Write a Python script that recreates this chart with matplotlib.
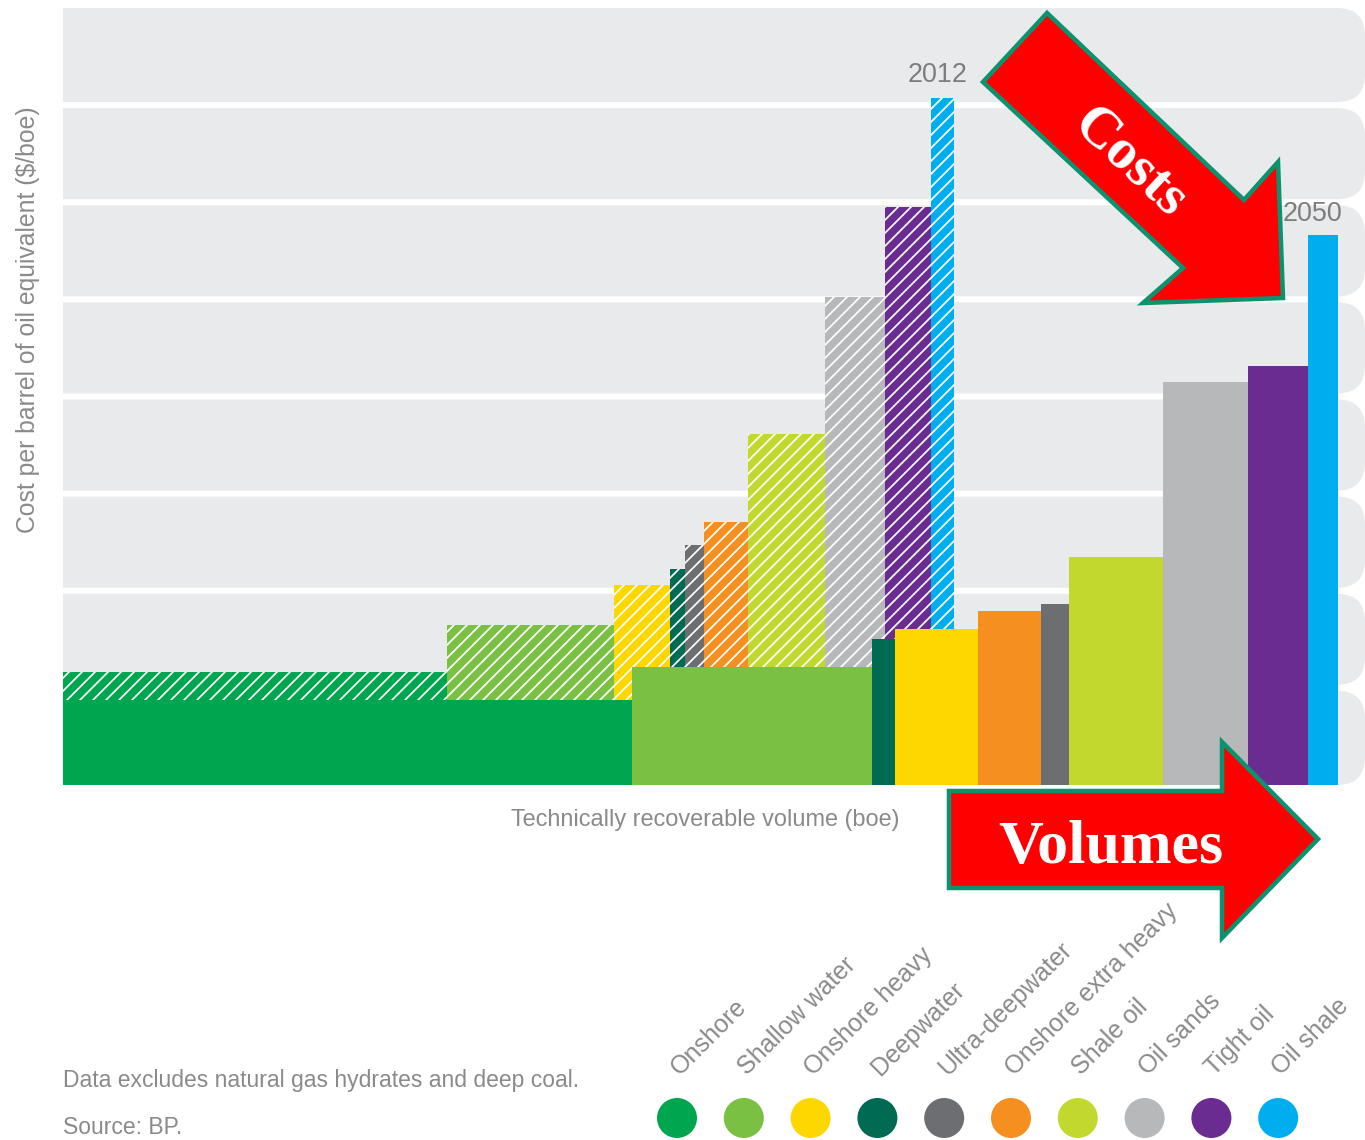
import numpy as np
import matplotlib
matplotlib.use("Agg")
import matplotlib.pyplot as plt
from matplotlib import rcParams
from matplotlib.patches import FancyBboxPatch, Polygon, Circle

# Fonts and hatch style
rcParams["font.family"] = ["Liberation Sans", "DejaVu Sans"]
rcParams["hatch.linewidth"] = 1.6
rcParams["hatch.color"] = "white"

DPI: int = 78
FIG_W_PX: int = 1365
FIG_H_PX: int = 1140
TEXT_GRAY: str = "#8a8a8a"
BAND_GRAY: str = "#e9eaeb"
ARROW_RED: str = "#ff0000"
ARROW_EDGE: str = "#0b9370"

# Resource categories (legend order) and their colours
categories = ["Onshore", "Shallow water", "Onshore heavy", "Deepwater", "Ultra-deepwater",
              "Onshore extra heavy", "Shale oil", "Oil sands", "Tight oil", "Oil shale"]
cat_colors = ["#00a54f", "#7ac143", "#ffd700", "#006a52", "#6d6e71",
              "#f58f1f", "#c2d82f", "#b7b8ba", "#6a2c91", "#00aeef"]

# 2012 supply curve: technically recoverable volume (relative units) and cost ($/boe)
order_2012 = ["Onshore", "Shallow water", "Onshore heavy", "Deepwater", "Ultra-deepwater",
              "Onshore extra heavy", "Shale oil", "Oil sands", "Tight oil", "Oil shale"]
volume_2012 = [295, 128, 43, 12, 14, 34, 59, 46, 36, 17]
cost_2012 = [11.6, 16.5, 20.6, 22.2, 24.7, 27.1, 36.1, 50.2, 59.5, 70.7]

# 2050 supply curve
order_2050 = ["Onshore", "Shallow water", "Deepwater", "Onshore heavy", "Onshore extra heavy",
              "Ultra-deepwater", "Shale oil", "Oil sands", "Tight oil", "Oil shale"]
volume_2050 = [437, 184, 18, 64, 48, 22, 72, 65, 46, 23]
cost_2050 = [8.75, 12.15, 15.0, 16.05, 17.9, 18.65, 23.5, 41.5, 43.15, 56.6]

# Axis ranges and background bands
X_MAX: float = 1000
Y_MAX: float = 80
band_step: float = 10

color_of = dict(zip(categories, cat_colors))


def px(v: float) -> float:
    """ pixel -> point """
    return v * 72 / DPI


fig = plt.figure(figsize=(FIG_W_PX / DPI, FIG_H_PX / DPI), dpi=DPI)
fig.patch.set_facecolor("white")

# Plot region (pixels): x 63..1365, y 8..785
ax_l, ax_r, ax_t, ax_b = 63, 1365, 8, 785
ax = fig.add_axes([ax_l / FIG_W_PX, 1 - ax_b / FIG_H_PX,
                   (ax_r - ax_l) / FIG_W_PX, (ax_b - ax_t) / FIG_H_PX])
ax.set_xlim(0, X_MAX)
ax.set_ylim(0, Y_MAX)
ax.set_facecolor("white")
for sp in ax.spines.values():
    sp.set_visible(False)
ax.set_xticks([])
ax.set_yticks([])

# Grey bands with rounded right ends, separated by white gaps
x_px_per_unit = (ax_r - ax_l) / X_MAX
y_px_per_unit = (ax_b - ax_t) / Y_MAX
gap = 6 / y_px_per_unit
round_px = 28
round_x = round_px / x_px_per_unit
aspect = (round_px / y_px_per_unit) / round_x
n_bands = int(Y_MAX / band_step)
for k in range(n_bands):
    y0 = k * band_step + (gap / 2 if k > 0 else 0)
    y1 = (k + 1) * band_step - (gap / 2 if k < n_bands - 1 else 0)
    band = FancyBboxPatch((-60, y0), X_MAX + 60, y1 - y0,
                          boxstyle=f"round,pad=0,rounding_size={round_x}",
                          mutation_aspect=aspect, facecolor=BAND_GRAY,
                          edgecolor="none", zorder=0)
    ax.add_patch(band)

# 2012 bars: hatched
left_2012 = np.concatenate([[0], np.cumsum(volume_2012)[:-1]])
ax.bar(left_2012, cost_2012, width=volume_2012, align="edge",
       color=[color_of[c] for c in order_2012], hatch="//",
       edgecolor="white", linewidth=0, zorder=2)

# 2050 bars: solid, drawn over the 2012 curve
left_2050 = np.concatenate([[0], np.cumsum(volume_2050)[:-1]])
ax.bar(left_2050, cost_2050, width=volume_2050, align="edge",
       color=[color_of[c] for c in order_2050], linewidth=0, zorder=3)

# Year labels above the last bar of each curve
ax.annotate("2012", xy=(left_2012[-1] + volume_2012[-1] / 2, cost_2012[-1]),
            xytext=(-5, 10), textcoords="offset pixels", ha="center", va="bottom",
            fontsize=px(27), color="#7d7d7d")
ax.annotate("2050", xy=(left_2050[-1] + volume_2050[-1] / 2, cost_2050[-1]),
            xytext=(-10, 8), textcoords="offset pixels", ha="center", va="bottom",
            fontsize=px(27), color="#7d7d7d")

# Axis titles
ax.set_ylabel("Cost per barrel of oil equivalent ($/boe)", fontsize=px(24.8), color=TEXT_GRAY)
ax.yaxis.set_label_coords((28 - ax_l) / (ax_r - ax_l), (ax_b - 320) / (ax_b - ax_t))
ax.set_xlabel("Technically recoverable volume (boe)", fontsize=px(23.5), color=TEXT_GRAY)
ax.xaxis.set_label_coords((705 - ax_l) / (ax_r - ax_l), (ax_b - 820) / (ax_b - ax_t))
ax.xaxis.label.set_va("center")
ax.yaxis.label.set_va("center")

# Overlay in pixel coordinates for legend, notes and arrows
ov = fig.add_axes([0, 0, 1, 1], zorder=5)
ov.set_xlim(0, FIG_W_PX)
ov.set_ylim(FIG_H_PX, 0)
ov.axis("off")
ov.patch.set_alpha(0)

# Legend: coloured dots with rotated names
dot_x0, dot_dx, dot_y = 677, 66.8, 1118
for i, (name, col) in enumerate(zip(categories, cat_colors)):
    cx = dot_x0 + i * dot_dx
    ov.add_patch(Circle((cx, dot_y), 20, facecolor=col, edgecolor="none"))
    ov.text(cx + 3, 1076, name, rotation=45, rotation_mode="anchor",
            ha="left", va="baseline", fontsize=px(25), color=TEXT_GRAY, zorder=1)

# Notes
ov.text(63, 1080, "Data excludes natural gas hydrates and deep coal.",
        ha="left", va="center", fontsize=px(22.9), color=TEXT_GRAY)
ov.text(63, 1127, "Source: BP.", ha="left", va="center", fontsize=px(22.9), color=TEXT_GRAY)

# "Costs" arrow pointing down-right
costs_arrow = [(983, 82), (1047, 13), (1244, 200), (1278, 162),
               (1283, 298), (1143, 303), (1183, 268)]
ov.add_patch(Polygon(costs_arrow, closed=True, facecolor=ARROW_RED,
                     edgecolor=ARROW_EDGE, linewidth=px(4.5), joinstyle="miter", zorder=3))
ov.text(1129, 163, "Costs", rotation=-43, rotation_mode="anchor", ha="center", va="center",
        fontsize=px(58), fontweight="bold", color="white",
        family=["Liberation Serif", "DejaVu Serif"], zorder=4)

# "Volumes" arrow pointing right
volumes_arrow = [(949, 791), (1222, 791), (1222, 742), (1318, 839),
                 (1222, 938), (1222, 888), (949, 888)]
ov.add_patch(Polygon(volumes_arrow, closed=True, facecolor=ARROW_RED,
                     edgecolor=ARROW_EDGE, linewidth=px(4.5), joinstyle="miter", zorder=3))
ov.text(1111, 863, "Volumes", ha="center", va="baseline",
        fontsize=px(62), fontweight="bold", color="white",
        family=["Liberation Serif", "DejaVu Serif"], zorder=4)

fig.savefig("out.png", dpi=DPI)
